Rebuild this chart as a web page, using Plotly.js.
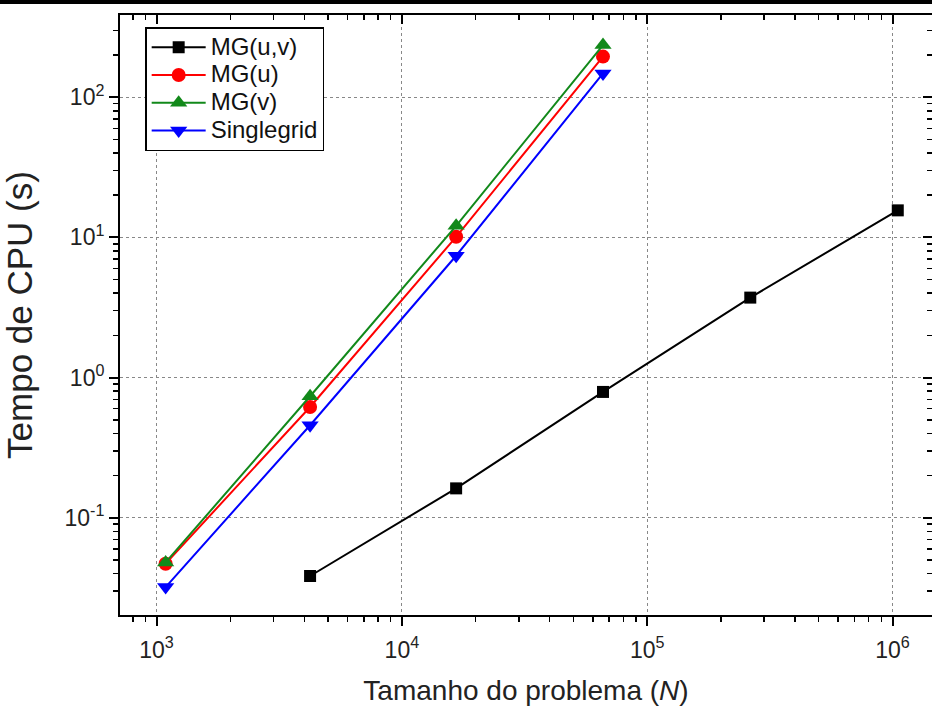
<!DOCTYPE html>
<html>
<head>
<meta charset="utf-8">
<script src="https://cdn.plot.ly/plotly-3.0.1.min.js"></script>
<style>
  html, body { margin: 0; padding: 0; background: #ffffff; }
  #chart { width: 932px; height: 715px; }
</style>
</head>
<body>
<div id="chart"></div>
<script>
// Problem sizes N = (2^k + 1)^2
const problemSize = [1089, 4225, 16641, 66049, 263169, 1050625];

// CPU time (s) for each solver
const mgUV       = [0.0384, 0.162, 0.79, 3.72, 15.6];   // N = 4225 ... 1050625
const mgU        = [0.047, 0.617, 10.1, 195];           // N = 1089 ... 66049
const mgV        = [0.048, 0.736, 12.1, 236];
const singlegrid = [0.032, 0.457, 7.4, 148];

const seriesNames = ['MG(u,v)', 'MG(u)', 'MG(v)', 'Singlegrid'];

// Axis tick labels
const xTickVals = [1e3, 1e4, 1e5, 1e6];
const xTickText = ['10<sup>3</sup>', '10<sup>4</sup>', '10<sup>5</sup>', '10<sup>6</sup>'];
const yTickVals = [0.1, 1, 10, 100];
const yTickText = ['10<sup>-1</sup>', '10<sup>0</sup>', '10<sup>1</sup>', '10<sup>2</sup>'];

// Minor tick positions (2..9 within each decade shown)
const xMinorVals = [700, 800, 900,
  2000, 3000, 4000, 5000, 6000, 7000, 8000, 9000,
  20000, 30000, 40000, 50000, 60000, 70000, 80000, 90000,
  200000, 300000, 400000, 500000, 600000, 700000, 800000, 900000];
const yMinorVals = [0.03, 0.04, 0.05, 0.06, 0.07, 0.08, 0.09,
  0.2, 0.3, 0.4, 0.5, 0.6, 0.7, 0.8, 0.9,
  2, 3, 4, 5, 6, 7, 8, 9,
  20, 30, 40, 50, 60, 70, 80, 90,
  200, 300];

const FONT = 'Liberation Sans, Arial, sans-serif';

function series(name, xs, ys, color, symbol, size, onOverlay) {
  return {
    type: 'scatter',
    mode: 'lines+markers',
    name: '<span style="font-size:24px">' + name + '</span>',
    x: xs,
    y: ys,
    xaxis: onOverlay ? 'x2' : 'x',
    yaxis: onOverlay ? 'y2' : 'y',
    line: { color: color, width: 2 },
    marker: { color: color, symbol: symbol, size: size, line: { width: 0 } },
    cliponaxis: false
  };
}

const traces = [
  series(seriesNames[0], problemSize.slice(1), mgUV, '#000000', 'square', 12, false),
  series(seriesNames[1], problemSize.slice(0, 4), mgU, '#ff0000', 'circle', 14, true),
  series(seriesNames[2], problemSize.slice(0, 4), mgV, '#12891a', 'triangle-up', 15, true),
  series(seriesNames[3], problemSize.slice(0, 4), singlegrid, '#0000ff', 'triangle-down', 15, true)
];

const xRange = [2.851, 6.161];
const yRange = [-1.694, 2.587];

function minorTicks(vals, dir) {
  return { tickmode: 'array', tickvals: vals, ticks: dir, ticklen: 5, tickwidth: 1.5,
           tickcolor: '#000', showgrid: false };
}

const baseAxis = {
  type: 'log', tickmode: 'array', ticklen: 9, tickwidth: 2, tickcolor: '#000',
  showline: true, linewidth: 2, linecolor: '#000', zeroline: false
};

const layout = {
  width: 932,
  height: 715,
  margin: { l: 120, r: 0, t: 15, b: 100 },
  paper_bgcolor: '#ffffff',
  plot_bgcolor: '#ffffff',
  font: { family: FONT, color: '#222' },
  showlegend: true,
  legend: {
    x: 0.031, y: 0.98, xanchor: 'left', yanchor: 'top',
    bgcolor: '#ffffff', bordercolor: '#000', borderwidth: 1.5,
    font: { family: FONT, size: 19, color: '#111' },
    itemwidth: 54, tracegroupgap: 0
  },
  xaxis: Object.assign({}, baseAxis, {
    range: xRange, tickvals: xTickVals, ticktext: xTickText, ticks: 'outside',
    showgrid: true, gridcolor: '#888', griddash: 'dot', gridwidth: 1,
    tickfont: { family: FONT, size: 23, color: '#222' }, ticklabelstandoff: 4,
    title: { text: 'Tamanho do problema (<i>N</i>)', font: { family: FONT, size: 28, color: '#222' }, standoff: 19 },
    minor: minorTicks(xMinorVals, 'outside')
  }),
  xaxis2: Object.assign({}, baseAxis, {
    range: xRange, overlaying: 'x', side: 'top', anchor: 'y2',
    tickvals: xTickVals, showticklabels: false, ticks: 'inside', showgrid: false,
    minor: minorTicks(xMinorVals, 'inside')
  }),
  yaxis: Object.assign({}, baseAxis, {
    range: yRange, tickvals: yTickVals, ticktext: yTickText, ticks: 'outside',
    showgrid: true, gridcolor: '#888', griddash: 'dot', gridwidth: 1,
    tickfont: { family: FONT, size: 23, color: '#222' },
    title: { text: 'Tempo de CPU (s)', font: { family: FONT, size: 35, color: '#222' }, standoff: 21 },
    minor: minorTicks(yMinorVals, 'outside')
  }),
  yaxis2: Object.assign({}, baseAxis, {
    range: yRange, overlaying: 'y', side: 'right', anchor: 'x2',
    tickvals: yTickVals, showticklabels: false, ticks: 'inside', showgrid: false,
    minor: minorTicks(yMinorVals, 'inside')
  }),
  shapes: [
    // heavy rule across the top of the page
    { type: 'rect', xref: 'paper', yref: 'paper', x0: -0.2, x1: 1.05, y0: 1.0183, y1: 1.03,
      fillcolor: '#000', line: { width: 0 }, layer: 'above' }
  ],
  hovermode: false
};

Plotly.newPlot('chart', traces, layout, { staticPlot: true, displayModeBar: false });
</script>
</body>
</html>
